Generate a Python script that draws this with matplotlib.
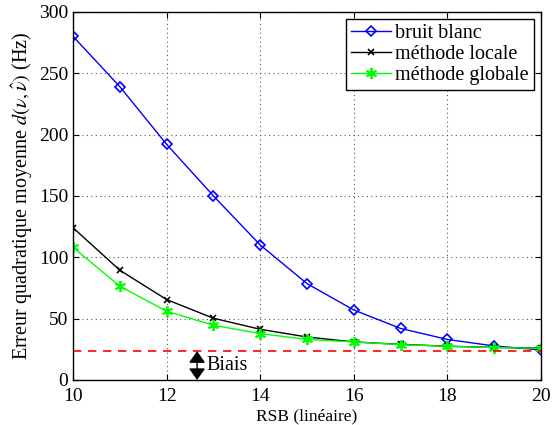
import matplotlib
matplotlib.use("Agg")
import matplotlib.pyplot as plt

rsb = [10, 11, 12, 13, 14, 15, 16, 17, 18, 19, 20]
bruit_blanc = [280, 239, 192, 150, 110, 78.5, 57, 42, 33, 27.7, 24.5]
methode_locale = [124, 89.4, 65.5, 50.3, 41.3, 35, 31, 29, 27.5, 26.5, 26]
methode_globale = [108, 76.4, 56, 44.6, 37.8, 33, 31, 28.8, 27.4, 26.4, 25.8]
biais = 23.4
labels = ["bruit blanc", "méthode locale", "méthode globale"]

plt.rcParams['font.family'] = ['Liberation Serif', 'DejaVu Serif']
plt.rcParams['mathtext.fontset'] = 'stix'

fig = plt.figure(figsize=(5.58, 4.25), dpi=100)
ax = fig.add_axes([0.131, 0.106, 0.8385, 0.866])

ax.plot(rsb, bruit_blanc, color='blue', marker='D', markersize=5.5, markerfacecolor='none',
        markeredgewidth=1.2, linewidth=1, label=labels[0])
ax.plot(rsb, methode_locale, color='black', marker='x', markersize=5, markeredgewidth=1.2,
        linewidth=1, label=labels[1])
ax.plot(rsb, methode_globale, color='#00ff00', marker=(6, 2, 0), markersize=8, markeredgewidth=1.3,
        linewidth=1, label=labels[2])
ax.axhline(biais, color='red', linestyle=(0, (5, 4)), linewidth=1.2)

ax.annotate('', xy=(12.65, 0), xytext=(12.65, biais),
            arrowprops=dict(arrowstyle='<|-|>,head_length=0.35,head_width=0.25', color='black',
                            lw=1, mutation_scale=20, shrinkA=0, shrinkB=0))
ax.text(12.86, biais / 2, 'Biais', fontsize=14.5, va='center', ha='left')

ax.set_xlim(10, 20)
ax.set_ylim(0, 300)
ax.set_xticks([10, 12, 14, 16, 18, 20])
ax.set_yticks([0, 50, 100, 150, 200, 250, 300])
ax.grid(True, linestyle=(0, (1, 3)), color='#555555', linewidth=0.8)
ax.tick_params(direction='in', top=True, right=True, labelsize=14, length=4)
ax.tick_params(axis='x', pad=6)
for s in ax.spines.values():
    s.set_linewidth(1)

ax.set_xlabel('RSB (linéaire)', fontsize=12.5, labelpad=2)
ax.set_ylabel(r'Erreur quadratique moyenne $d(\nu,\hat{\nu})$ (Hz)', fontsize=14.5, labelpad=3)

leg = ax.legend(loc='upper right', fontsize=14.5, frameon=True, fancybox=False,
                edgecolor='black', framealpha=1, borderpad=0.25, labelspacing=0.1,
                handlelength=2.0, handletextpad=0.2, borderaxespad=0.35)
leg.get_frame().set_linewidth(1)

fig.savefig('out.png', dpi=100)
